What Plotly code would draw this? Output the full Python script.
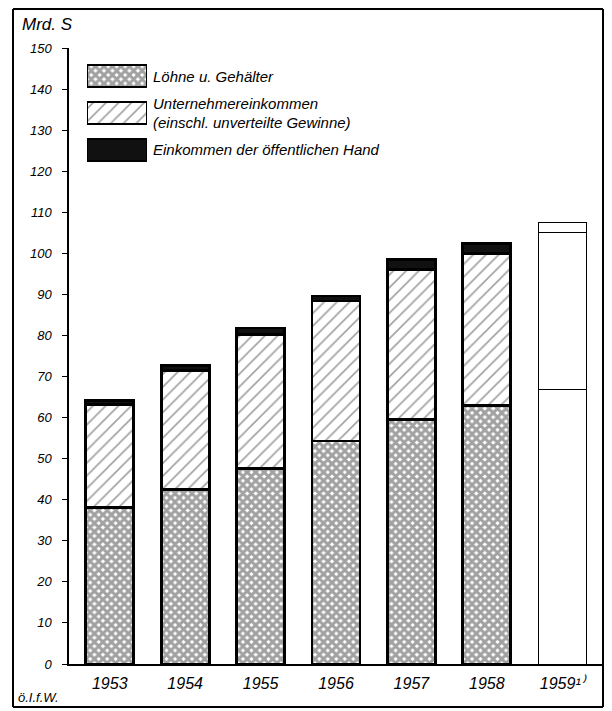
import plotly.graph_objects as go

years = ["1953", "1954", "1955", "1956", "1957", "1958", "1959"]
year_labels = ["1953", "1954", "1955", "1956", "1957", "1958", "1959¹⁾"]
loehne = [38.1, 42.5, 47.6, 54.3, 59.6, 62.9, 66.8]
unternehmer = [25.1, 28.9, 32.6, 34.1, 36.4, 37.0, 38.2]
oeffentlich = [1.0, 1.2, 1.6, 1.2, 2.5, 2.5, 2.6]
series_names = [
    "Löhne u. Gehälter",
    "Unternehmereinkommen<br>(einschl. unverteilte Gewinne)",
    "Einkommen der öffentlichen Hand",
]
y_ticks = list(range(0, 151, 10))

# the page body has an 8px margin; work in window pixels and shift
OFF = 8
W, H = 612 - OFF, 711 - OFF
L, R, T, B = 69, 603, 48, 664  # plot area in window px
pw, ph = R - L, B - T

def px(x):
    return (x - L) / pw

def py(y):
    return (B - y) / ph

FONT = "Liberation Sans"
forecast = [y == "1959" for y in years]

# style per series: (pattern shape, pattern size, solidity, fill colour)
series_styles = [
    ("x", 6, 0.76, "white"),
    ("/", 9, 0.18, "white"),
    ("", 8, 0.5, "#111111"),
]
series_values = [loehne, unternehmer, oeffentlich]

fig = go.Figure()
for vals, name, (shape, size, sol, fill) in zip(series_values, series_names, series_styles):
    shp = ["" if f else shape for f in forecast]
    cols = ["white" if f else fill for f in forecast]
    wids = [1 if f else 2.8 for f in forecast]
    fig.add_trace(go.Bar(
        x=years, y=vals, name=name, showlegend=False,
        marker=dict(
            color=cols,
            line=dict(color="black", width=wids),
            pattern=dict(shape=shp, size=size, solidity=sol,
                         fgcolor="black", fillmode="overlay"),
        ),
    ))

# legend keys: one full-width swatch per series on a small inset axis
fig.add_trace(go.Bar(
    y=series_names, x=[1] * len(series_names), orientation="h",
    xaxis="x2", yaxis="y2", showlegend=False, hoverinfo="skip", width=0.6,
    marker=dict(
        color=[s[3] for s in series_styles],
        line=dict(color="black", width=2),
        pattern=dict(shape=[s[0] for s in series_styles],
                     size=[s[1] for s in series_styles],
                     solidity=[s[2] for s in series_styles],
                     fgcolor="black", fillmode="overlay"),
    ),
))

frame = dict(x0=px(13), x1=px(603), y0=py(707), y1=py(max(5, OFF + 1)))
line_style = dict(color="black", width=2)
shapes = [
    dict(type="line", xref="paper", yref="paper", layer="above", line=line_style,
         x0=frame["x0"], x1=frame["x1"], y0=frame["y1"], y1=frame["y1"]),
    dict(type="line", xref="paper", yref="paper", layer="above", line=line_style,
         x0=frame["x0"], x1=frame["x1"], y0=frame["y0"], y1=frame["y0"]),
    dict(type="line", xref="paper", yref="paper", layer="above", line=line_style,
         x0=frame["x0"], x1=frame["x0"], y0=frame["y0"], y1=frame["y1"]),
    dict(type="line", xref="paper", yref="paper", layer="above", line=line_style,
         x0=frame["x1"], x1=frame["x1"], y0=frame["y0"], y1=frame["y1"]),
]

fig.update_layout(
    width=W, height=H,
    margin=dict(l=L - OFF, r=(W + OFF) - R, t=T - OFF, b=(H + OFF) - B),
    paper_bgcolor="white", plot_bgcolor="white",
    barmode="stack", bargap=0.364,
    font=dict(family=FONT, color="black", size=14, style="italic"),
    showlegend=False,
    xaxis=dict(
        type="category", range=[-0.54, 6.54],
        tickmode="array", tickvals=years, ticktext=year_labels,
        showline=True, linecolor="black", linewidth=2,
        ticks="", showgrid=False, zeroline=False,
        tickfont=dict(size=16, family=FONT, style="italic"),
        ticklabelstandoff=4,
    ),
    yaxis=dict(
        range=[0, 150], tickvals=y_ticks,
        showline=True, linecolor="black", linewidth=1.5,
        ticks="outside", ticklen=5, tickwidth=1.2, tickcolor="black",
        showgrid=False, zeroline=False,
        tickfont=dict(size=13, family=FONT, style="italic"),
        ticklabelstandoff=8,
    ),
    xaxis2=dict(
        domain=[px(87), px(147)], anchor="y2", range=[0, 1],
        visible=False, fixedrange=True,
    ),
    yaxis2=dict(
        domain=[py(168), py(58)], anchor="x2", side="right",
        type="category", autorange="reversed",
        showline=False, showgrid=False, zeroline=False, ticks="",
        tickfont=dict(size=15, family=FONT, style="italic"),
        ticklabelstandoff=5,
    ),
    shapes=shapes,
    annotations=[
        dict(text="Mrd. S", xref="paper", yref="paper", x=px(20), y=py(25),
             xanchor="left", yanchor="middle", showarrow=False,
             font=dict(size=17, family=FONT, style="italic")),
        dict(text="ö.I.f.W.", xref="paper", yref="paper", x=px(16), y=py(697),
             xanchor="left", yanchor="middle", showarrow=False,
             font=dict(size=13, family=FONT, style="italic")),
    ],
)

fig.write_html("out.html")
